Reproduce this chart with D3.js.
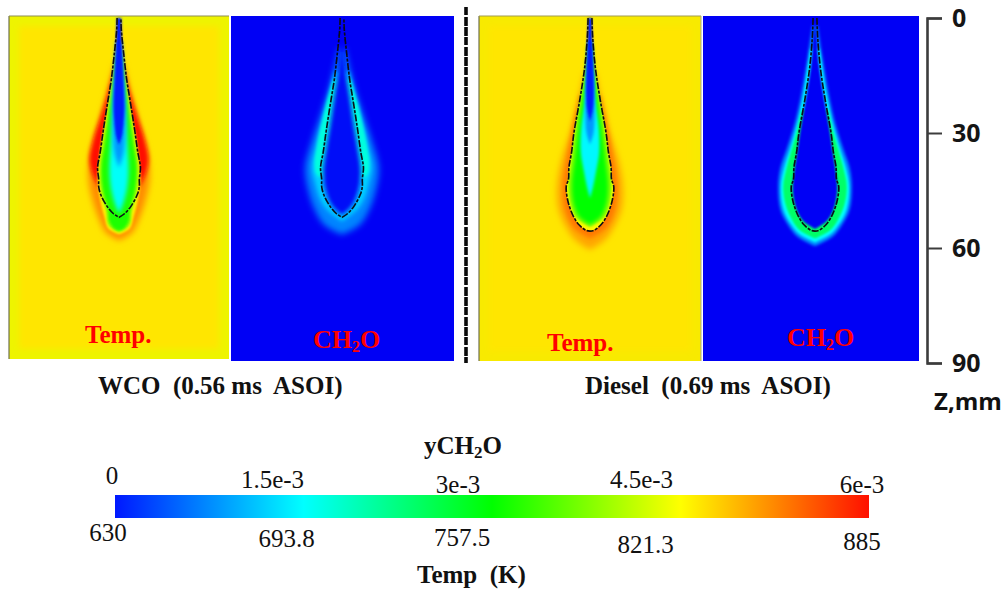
<!DOCTYPE html>
<html>
<head>
<meta charset="utf-8">
<style>
html, body { margin: 0; padding: 0; background: #fff; }
svg { display: block; }
text { font-family: "Liberation Serif", serif; fill: #111; white-space: pre; }
.cap { font-weight: bold; font-size: 25px; }
.bar { font-size: 25px; }
.red { font-weight: bold; font-size: 25px; fill: #f00; }
.axis text { font-family: "Open Sans", sans-serif; font-weight: bold; font-size: 25px; fill: #151515; }
.axis path, .axis line { stroke: #3c3c3c; }
</style>
</head>
<body>
<script src="https://cdn.jsdelivr.net/npm/d3@7"></script>
<script>
// axis + colour bar values
var zTicks = [0, 30, 60, 90];
var tempTicks = [630, 693.8, 757.5, 821.3, 885];
var ch2oTicks = [0, 1.5e-3, 3e-3, 4.5e-3, 6e-3];
var ch2oLabels = ["0", "1.5e-3", "3e-3", "4.5e-3", "6e-3"];
var barColors = ["#0018ff", "#00ffff", "#00ff00", "#ffff00", "#ff1000"];

// plume profiles, [z in mm, half width in mm]
var wcoFlame = [[0, .5], [3, .6], [10, 1.3], [16, 2], [21, 2.8], [26, 3.6], [30, 4.2], [35, 4.9], [39, 5.6], [42, 5.3], [44, 5.3], [46, 4.8], [49, 3.2], [51, 1.5], [52, 0]];
var wcoOrange = [[12, 1.2], [20, 3.2], [28, 5.4], [36, 7.6], [42, 8], [48, 6.8], [53, 5], [56, 3.4], [58, 0]];
var wcoRed = [[14, 1.4], [20, 3], [26, 4.9], [32, 6.8], [37, 7.7], [41, 6.8], [44, 5], [47, 0]];
var wcoPale = [[8, .8], [16, 1.9], [26, 3.5], [35, 5], [42, 5.6], [47, 5], [52, 3.8], [55, 2.8], [56.5, 0]];
var wcoLime = [[9, .9], [17, 1.9], [26, 3.3], [34, 4.6], [41, 5.2], [46, 4.6], [51, 3.3], [54, 2.8], [55.8, 0]];
var wcoGreen = [[10, .8], [18, 1.7], [26, 2.8], [33, 3.8], [39, 4.6], [45, 4.2], [50, 2.9], [53, 2.6], [55, 1.3], [55.6, 0]];
var wcoCyan = [[16, .9], [24, 1.6], [32, 2.1], [40, 2.5], [45, 2], [49, .9], [51, 0]];
var wcoSky = [[6, .7], [16, 1.3], [24, 1.7], [30, 1.6], [35, 1.2], [39, 0]];
var wcoBlue = [[0, .6], [8, .8], [16, 1.15], [23, 1.4], [27, 1.2], [31, .7], [33, 0]];
var wcoHalo = [[8, .8], [18, 3.2], [26, 5.8], [32, 7.8], [39, 9.6], [45, 8.8], [50, 7.1], [54, 4.6], [56.5, 0]];
var wcoBright = [[14, 1.8], [22, 3.9], [28, 5.4], [34, 6.8], [39, 7.8], [43, 7], [47, 5.8], [50, 3.9], [53, 0]];
var wcoLobe = [[16, 2.2], [22, 3.9], [28, 5.4], [34, 6.6], [38, 7.1], [41, 6.4], [43.5, 0]];
var wcoInner = [[0, .2], [12, .7], [20, 1.9], [28, 3.1], [34, 4.1], [40, 4.9], [45, 4.3], [49, 2.6], [51.5, 0]];

var dieselFlame = [[0, .5], [5, .7], [13, 1.4], [21, 2.6], [30, 4.2], [35, 4.8], [39, 5.5], [42, 5.6], [44, 6.2], [48, 5.7], [52, 4.2], [54, 2.8], [55.4, 1], [55.6, 0]];
var dieselOrange = [[14, 1.4], [22, 3.2], [30, 5.2], [37, 7.4], [44, 8.6], [50, 8.2], [55, 6], [58, 3.8], [60.5, 0]];
var dieselDeep = [[20, 2.6], [30, 4.8], [38, 6.3], [45, 7.1], [51, 6.2], [55, 4], [57.5, 0]];
var dieselLime = [[6, .5], [14, 1.3], [22, 2.7], [30, 4], [37, 4.9], [44, 5.7], [49, 5], [52, 3.7], [54.5, 0]];
var dieselGreen = [[7, .4], [15, 1.1], [22, 2.2], [30, 3.3], [37, 4.1], [44, 4.8], [49, 4.2], [52, 2.8], [54, 0]];
var dieselCyan = [[14, .7], [22, 1.4], [29, 2.3], [35, 2.4], [40, 1.6], [44, .8], [47, 0]];
var dieselSky = [[6, .6], [14, .95], [21, 1.2], [26, 1.2], [30, .9], [33, 0]];
var dieselBlue = [[0, .5], [8, .7], [15, .95], [20, 1], [24, .7], [27, 0]];
var dieselHalo = [[2, .7], [10, 1.9], [20, 3.6], [28, 5.4], [34, 7.3], [39, 9], [44, 9.6], [50, 9], [54, 7], [57, 4.6], [59.5, 0]];
var dieselRing = [[8, 1.2], [20, 3], [28, 4.7], [34, 6.4], [39, 8], [44, 8.9], [50, 8.2], [54, 6.1], [56.5, 3.9], [58.5, 0]];
var dieselLobe = [[24, 3.4], [30, 4.8], [35, 6.3], [39, 7.4], [44, 8.3], [49, 7.6], [53, 5.8], [55.5, 3.8], [57.5, 0]];
var dieselInner = [[0, .1], [12, 1], [20, 2.2], [28, 3.6], [34, 4.5], [40, 5.4], [45, 5.8], [50, 4.8], [53, 3], [55, 0]];

var W = 1008, H = 597;
var svg = d3.select("body").append("svg").attr("width", W).attr("height", H);
var defs = svg.append("defs");

var zScale = d3.scaleLinear().domain([0, 90]).range([18, 363]);
var wScale = d3.scaleLinear().domain([0, 90]).range([0, 345]);
var barX = d3.scaleLinear().domain([630, 885]).range([115, 869]);
var tempColor = d3.scaleLinear().domain(tempTicks).range(barColors);
var ch2oColor = d3.scaleLinear().domain(ch2oTicks).range(barColors);

var yellow = tempColor(828), blue = "#0000f5";

[.5, 1, 1.5, 2, 3].forEach(function(b) {
    defs.append("filter").attr("id", "blur" + String(b).replace(".", "_"))
        .attr("x", "-40%").attr("y", "-20%").attr("width", "180%").attr("height", "140%")
        .append("feGaussianBlur").attr("stdDeviation", b);
});

var plumeArea = d3.area().curve(d3.curveCatmullRom)
    .y(function(d) { return zScale(d[0]); })
    .x0(function(d) { return -wScale(d[1]); })
    .x1(function(d) { return wScale(d[1]); });

function makePanel(id, x0, x1, y0, y1, cx, fill, edge) {
    defs.append("clipPath").attr("id", id).append("rect")
        .attr("x", x0).attr("y", y0).attr("width", x1 - x0).attr("height", y1 - y0);
    var g = svg.append("g").attr("clip-path", "url(#" + id + ")");
    g.append("rect").attr("x", x0).attr("y", y0).attr("width", x1 - x0).attr("height", y1 - y0).attr("fill", edge);
    g.append("rect").attr("x", x0 + 10).attr("y", y0 + 10).attr("width", x1 - x0 - 20).attr("height", y1 - y0 - 20)
        .attr("fill", fill).attr("filter", "url(#blur3)");
    var p = g.append("g").attr("transform", "translate(" + cx + ",0)");
    return p;
}

function layer(p, profile, color, blur) {
    p.append("path").attr("d", plumeArea(profile)).attr("fill", color)
        .attr("filter", "url(#blur" + String(blur).replace(".", "_") + ")");
}

// stoichiometric line, down the left side and back up the right
function flameLine(p, profile) {
    var line = d3.line().curve(d3.curveCatmullRom)
        .x(function(d) { return d[1] * wScale(1); })
        .y(function(d) { return zScale(d[0]); });
    var side = function(s) { return profile.map(function(d) { return [d[0], s * d[1]]; }); };
    p.append("path").attr("d", line(side(-1).concat(side(1).reverse())))
        .attr("fill", "none").attr("stroke", "#0b0b14").attr("stroke-width", 1.6)
        .attr("stroke-dasharray", "7 1.5 3 1.5").attr("filter", "url(#blur0_5)");
}

// WCO temperature
var p1 = makePanel("c1", 9, 229, 16, 359, 119, yellow, "#eef400");
layer(p1, wcoOrange, tempColor(852), 3);
layer(p1, wcoRed, tempColor(885), 2);
layer(p1, wcoPale, tempColor(825), 1);
layer(p1, wcoLime, tempColor(800), 1);
layer(p1, wcoGreen, tempColor(765), 1.5);
layer(p1, wcoCyan, tempColor(695), 2);
layer(p1, wcoSky, tempColor(665), 2);
layer(p1, wcoBlue, tempColor(632), 1);
flameLine(p1, wcoFlame);

// WCO CH2O
var p2 = makePanel("c2", 231, 454, 16, 361, 342, blue, blue);
layer(p2, wcoHalo, ch2oColor(.7e-3), 3);
layer(p2, wcoBright, ch2oColor(1.2e-3), 2);
layer(p2, wcoLobe, ch2oColor(1.7e-3), 1.5);
layer(p2, wcoInner, "#0008f8", 2);
flameLine(p2, wcoFlame);

// Diesel temperature
var p3 = makePanel("c3", 479, 701, 16, 361, 590, yellow, "#f8ea00");
layer(p3, dieselOrange, tempColor(845), 3);
layer(p3, dieselDeep, tempColor(857), 2);
layer(p3, dieselFlame, tempColor(822), .5);
layer(p3, dieselLime, tempColor(795), 1);
layer(p3, dieselGreen, tempColor(757), 2);
layer(p3, dieselCyan, tempColor(692), 1.5);
layer(p3, dieselSky, tempColor(665), 1.5);
layer(p3, dieselBlue, tempColor(632), 1);
flameLine(p3, dieselFlame);

// Diesel CH2O
var p4 = makePanel("c4", 703, 919, 16, 361, 815, blue, blue);
layer(p4, dieselHalo, ch2oColor(.8e-3), 1.5);
layer(p4, dieselRing, ch2oColor(1.5e-3), 1);
layer(p4, dieselLobe, ch2oColor(2.4e-3), 1);
layer(p4, dieselInner, blue, 1);
flameLine(p4, dieselFlame);

// thin scanned edges of the two temperature panels
[[9, 16, 359], [479, 16, 361]].forEach(function(e) {
    svg.append("line").attr("x1", e[0]).attr("x2", e[0]).attr("y1", e[1]).attr("y2", e[2])
        .attr("stroke", "#6f7050").attr("stroke-width", 1.2);
});
svg.append("line").attr("x1", 9).attr("x2", 229).attr("y1", 16).attr("y2", 16).attr("stroke", "#8d8d50");
svg.append("line").attr("x1", 479).attr("x2", 701).attr("y1", 16).attr("y2", 16).attr("stroke", "#a09a50");
svg.append("line").attr("x1", 701).attr("x2", 701).attr("y1", 16).attr("y2", 361).attr("stroke", "#a8a890");

// dashed divider
svg.append("line").attr("x1", 466).attr("x2", 466).attr("y1", 7).attr("y2", 363)
    .attr("stroke", "#0a0a0a").attr("stroke-width", 3.6).attr("stroke-dasharray", "8 2 9 1 9 1");

// depth axis
var zAxis = d3.axisRight(zScale).tickValues(zTicks).tickSize(15).tickPadding(10).tickFormat(d3.format("d"));
var ax = svg.append("g").attr("class", "axis").attr("transform", "translate(927,0)").call(zAxis);
ax.select(".domain").attr("stroke-width", 2.6);
ax.selectAll(".tick line").attr("stroke-width", 2);
svg.append("text").attr("x", 934).attr("y", 410)
    .style("font-family", "'Open Sans', sans-serif").style("font-weight", "bold").style("font-size", "24px").text("Z,mm");

// panel labels
function ch2oText(x, y, cls, size) {
    var t = svg.append("text").attr("x", x).attr("y", y).attr("class", cls);
    if (size) t.style("font-size", size + "px");
    return t;
}
function subscripted(t, a, sub, b, subSize) {
    t.append("tspan").text(a);
    t.append("tspan").attr("dy", 4).style("font-size", subSize + "px").text(sub);
    t.append("tspan").attr("dy", -4).text(b);
}
svg.append("text").attr("class", "red").attr("x", 85).attr("y", 343).text("Temp.");
svg.append("text").attr("class", "red").attr("x", 547).attr("y", 351).text("Temp.");
subscripted(ch2oText(313, 348, "red", 26), "CH", "2", "O", 16);
subscripted(ch2oText(787, 346, "red", 26), "CH", "2", "O", 16);

svg.append("text").attr("class", "cap").attr("x", 98).attr("y", 394).text("WCO  (0.56 ms  ASOI)");
svg.append("text").attr("class", "cap").attr("x", 585).attr("y", 394).text("Diesel  (0.69 ms  ASOI)");

// colour bar
var grad = defs.append("linearGradient").attr("id", "barGrad");
tempTicks.forEach(function(t, i) {
    grad.append("stop").attr("offset", (barX(t) - barX(630)) / (barX(885) - barX(630))).attr("stop-color", barColors[i]);
});
svg.append("rect").attr("x", barX(630)).attr("y", 495).attr("width", barX(885) - barX(630)).attr("height", 23)
    .attr("fill", "url(#barGrad)");

// labels sit off their ticks in the original, so each one carries a nudge
var topNudgeX = [-3, -31, -34, -39, -7];
var topY = [484, 488, 493, 488, 493];
var botNudgeX = [-7, -17, -30, -35, -7];
var botY = [541, 547, 546, 553, 550];
var ch2oX = d3.scaleLinear().domain([0, 6e-3]).range(barX.range());

svg.selectAll(".top").data(ch2oTicks).enter().append("text").attr("class", "bar")
    .attr("text-anchor", "middle")
    .attr("x", function(d, i) { return ch2oX(d) + topNudgeX[i]; })
    .attr("y", function(d, i) { return topY[i]; })
    .text(function(d, i) { return ch2oLabels[i]; });

svg.selectAll(".bot").data(tempTicks).enter().append("text").attr("class", "bar")
    .attr("text-anchor", "middle")
    .attr("x", function(d, i) { return barX(d) + botNudgeX[i]; })
    .attr("y", function(d, i) { return botY[i]; })
    .text(function(d) { return d; });

subscripted(ch2oText(424, 454, "cap", 25), "yCH", "2", "O", 17);
svg.append("text").attr("class", "cap").attr("x", 417).attr("y", 583).text("Temp  (K)");
</script>
</body>
</html>
